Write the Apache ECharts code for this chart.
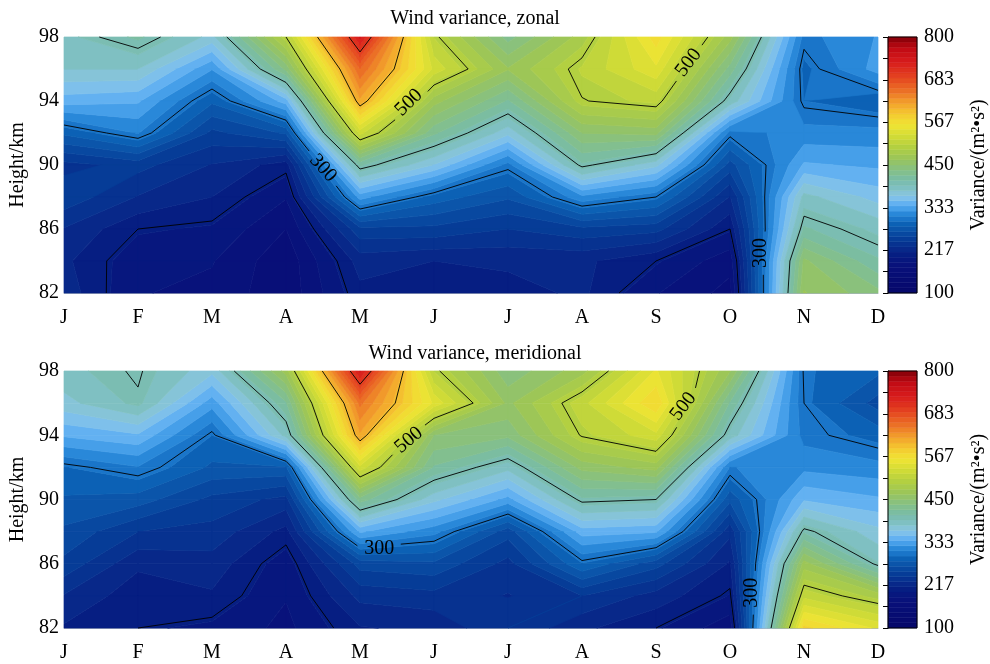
<!DOCTYPE html>
<html>
<head>
<meta charset="utf-8">
<script src="https://cdn.jsdelivr.net/npm/echarts@6/dist/echarts.min.js"></script>
<style>
  html, body { margin: 0; padding: 0; background: #fff; }
  #chart { width: 990px; height: 664px; }
</style>
</head>
<body>
<div id="chart"></div>
<script>
const months = ['J', 'F', 'M', 'A', 'M', 'J', 'J', 'A', 'S', 'O', 'N', 'D'];
const heights = [98, 96, 94, 92, 90, 88, 86, 84, 82];

// variance (m2/s2), one row per height, top row = 98 km, columns J..D
const zonal = [
  [390, 411, 375, 500, 735, 505, 430, 485, 570, 470, 305, 325],
  [380, 380, 325, 440, 660, 530, 465, 508, 545, 430, 292, 330],
  [345, 340, 285, 345, 614, 470, 420, 499, 510, 390, 296, 285],
  [285, 311, 250, 270, 525, 425, 370, 450, 455, 305, 315, 315],
  [235, 245, 225, 205, 410, 365, 305, 405, 370, 262, 340, 335],
  [250, 225, 212, 185, 330, 290, 270, 320, 300, 225, 385, 360],
  [225, 200, 196, 170, 250, 250, 240, 250, 245, 200, 410, 390],
  [215, 189, 185, 160, 218, 212, 215, 215, 200, 175, 453, 410],
  [220, 185, 180, 160, 208, 205, 206, 215, 185, 165, 465, 440]
];
const meridional = [
  [390, 402, 370, 470, 735, 505, 440, 472, 550, 465, 298, 285],
  [375, 398, 330, 420, 650, 545, 460, 515, 575, 420, 300, 262],
  [340, 350, 296, 385, 615, 450, 440, 502, 530, 389, 305, 290],
  [295, 309, 279, 280, 530, 420, 385, 455, 470, 309, 320, 315],
  [280, 275, 250, 235, 430, 370, 333, 405, 400, 272, 350, 340],
  [265, 240, 235, 207, 340, 315, 260, 345, 340, 230, 405, 370],
  [250, 215, 220, 190, 260, 265, 235, 295, 260, 210, 470, 395],
  [225, 203, 210, 185, 230, 235, 225, 240, 220, 197, 515, 486],
  [210, 200, 195, 180, 211, 215, 240, 215, 200, 175, 580, 545]
];

const colorTicks = [100, 217, 333, 450, 567, 683, 800];
const lineLevels = [200, 300, 400, 500, 600, 700];

// contour labels: month index, height, rotation in degrees
const zonalLabels = [
  {level: 300, x: 3.50, h: 89.8, angle: -48},
  {level: 500, x: 4.66, h: 93.9, angle: 44},
  {level: 500, x: 8.44, h: 96.4, angle: 52},
  {level: 300, x: 9.41, h: 84.5, angle: 90}
];
const meridionalLabels = [
  {level: 300, x: 4.26, h: 86.95, angle: 0},
  {level: 500, x: 4.66, h: 93.7, angle: 40},
  {level: 500, x: 8.37, h: 95.8, angle: 52},
  {level: 300, x: 9.30, h: 84.2, angle: 90}
];

const colorStops = [
  [100, '#06086a'], [170, '#08107a'], [200, '#061a80'], [225, '#082c8c'],
  [250, '#063e98'], [270, '#0a50a6'], [290, '#0c62b6'], [305, '#1c78cc'],
  [320, '#2c8cdc'], [335, '#50a6ee'], [350, '#6cb6f2'], [365, '#8ac6e6'],
  [385, '#80c0c4'], [410, '#78bca8'], [440, '#88c080'], [470, '#9cc658'],
  [500, '#b4d040'], [530, '#d2dc36'], [560, '#f0e434'], [590, '#f4c830'],
  [620, '#f2a02c'], [650, '#ec7426'], [690, '#e44420'], [730, '#d81c1c'],
  [770, '#c00a14'], [800, '#820008']
];

const serif = '"Liberation Serif", "DejaVu Serif", serif';
const bandStep = 14;
const bandEdges = [];
for (let v = 100; v <= 800; v += bandStep) bandEdges.push(v);

function hexRgb(h) {
  return [parseInt(h.slice(1, 3), 16), parseInt(h.slice(3, 5), 16), parseInt(h.slice(5, 7), 16)];
}
function colorAt(v) {
  if (v <= colorStops[0][0]) return colorStops[0][1];
  for (let i = 1; i < colorStops.length; i++) {
    if (v <= colorStops[i][0]) {
      const [v0, c0] = colorStops[i - 1], [v1, c1] = colorStops[i];
      const t = (v - v0) / (v1 - v0);
      const a = hexRgb(c0), b = hexRgb(c1);
      return 'rgb(' + a.map((x, k) => Math.round(x + t * (b[k] - x))).join(',') + ')';
    }
  }
  return colorStops[colorStops.length - 1][1];
}

function clipPoly(poly, level, above) {
  const out = [];
  for (let i = 0; i < poly.length; i++) {
    const a = poly[i], b = poly[(i + 1) % poly.length];
    const ina = above ? a[2] >= level : a[2] < level;
    const inb = above ? b[2] >= level : b[2] < level;
    if (ina) out.push(a);
    if (ina !== inb) {
      const t = (level - a[2]) / (b[2] - a[2]);
      out.push([a[0] + t * (b[0] - a[0]), a[1] + t * (b[1] - a[1]), level]);
    }
  }
  return out;
}

function cellCorners(grid, api) {
  const c = api.value(0), r = heights.indexOf(api.value(1));
  return [[c, r], [c + 1, r], [c + 1, r + 1], [c, r + 1]].map(([ci, ri]) => {
    const p = api.coord([ci, heights[ri]]);
    return [p[0], p[1], grid[ri][ci]];
  });
}

function cells() {
  const items = [];
  for (let r = 0; r < heights.length - 1; r++)
    for (let c = 0; c < months.length - 1; c++)
      items.push([c, heights[r]]);
  return items;
}

function fillItem(grid) {
  return function (params, api) {
    const corners = cellCorners(grid, api);
    const vals = corners.map(p => p[2]);
    const vmin = Math.min(...vals), vmax = Math.max(...vals);
    const children = [];
    for (let k = 0; k < bandEdges.length - 1; k++) {
      const lo = k === 0 ? -Infinity : bandEdges[k];
      const hi = k === bandEdges.length - 2 ? Infinity : bandEdges[k + 1];
      if (hi <= vmin || lo > vmax) continue;
      let poly = corners;
      if (lo > vmin) poly = clipPoly(poly, lo, true);
      if (hi <= vmax) poly = clipPoly(poly, hi, false);
      if (poly.length < 3) continue;
      const col = colorAt((bandEdges[k] + bandEdges[k + 1]) / 2);
      children.push({
        type: 'polygon',
        shape: {points: poly.map(p => [p[0], p[1]])},
        style: {fill: col, stroke: col, lineWidth: 0.7}
      });
    }
    return {type: 'group', children: children};
  };
}

function cutSegment(p, q, holes) {
  let pieces = [[0, 1]];
  const dx = q[0] - p[0], dy = q[1] - p[1];
  holes.forEach(hc => {
    const fx = p[0] - hc[0], fy = p[1] - hc[1];
    const A = dx * dx + dy * dy, B = 2 * (fx * dx + fy * dy), C = fx * fx + fy * fy - hc[2] * hc[2];
    const disc = B * B - 4 * A * C;
    if (A === 0 || disc <= 0) return;
    const s = Math.sqrt(disc);
    const t1 = (-B - s) / (2 * A), t2 = (-B + s) / (2 * A);
    const next = [];
    pieces.forEach(([a, b]) => {
      if (t2 <= a || t1 >= b) { next.push([a, b]); return; }
      if (t1 > a) next.push([a, t1]);
      if (t2 < b) next.push([t2, b]);
    });
    pieces = next;
  });
  return pieces.map(([a, b]) => [[p[0] + a * dx, p[1] + a * dy], [p[0] + b * dx, p[1] + b * dy]]);
}

function lineItem(grid, labels) {
  return function (params, api) {
    const corners = cellCorners(grid, api);
    const center = corners.reduce((s, p) => s + p[2], 0) / 4;
    const holes = labels.map(l => {
      const p = api.coord([l.x, l.h]);
      return {level: l.level, c: [p[0], p[1], 22]};
    });
    const children = [];
    lineLevels.forEach(L => {
      const cr = [];
      for (let e = 0; e < 4; e++) {
        const a = corners[e], b = corners[(e + 1) % 4];
        const va = a[2] === L ? L + 1e-6 : a[2], vb = b[2] === L ? L + 1e-6 : b[2];
        if ((va - L) * (vb - L) < 0) {
          const t = (L - va) / (vb - va);
          cr[e] = [a[0] + t * (b[0] - a[0]), a[1] + t * (b[1] - a[1])];
        }
      }
      const idx = [0, 1, 2, 3].filter(e => cr[e]);
      let segs = [];
      if (idx.length === 2) segs = [[cr[idx[0]], cr[idx[1]]]];
      else if (idx.length === 4) {
        if ((corners[0][2] >= L) === (center >= L)) segs = [[cr[0], cr[1]], [cr[2], cr[3]]];
        else segs = [[cr[3], cr[0]], [cr[1], cr[2]]];
      }
      const myHoles = holes.filter(hh => hh.level === L).map(hh => hh.c);
      segs.forEach(([p, q]) => {
        cutSegment(p, q, myHoles).forEach(([a, b]) => {
          children.push({
            type: 'line',
            shape: {x1: a[0], y1: a[1], x2: b[0], y2: b[1]},
            style: {stroke: '#000', lineWidth: 0.9}
          });
        });
      });
    });
    return {type: 'group', children: children};
  };
}

function labelItem(labels) {
  return function (params, api) {
    const l = labels[params.dataIndex];
    const p = api.coord([l.x, l.h]);
    return {
      type: 'text', x: p[0], y: p[1], rotation: l.angle * Math.PI / 180,
      style: {text: String(l.level), fill: '#000', font: '20px ' + serif, align: 'center', verticalAlign: 'middle'}
    };
  };
}

function colorbarItem(params, api) {
  const k = params.dataIndex;
  const lo = bandEdges[k], hi = bandEdges[k + 1];
  const p0 = api.coord([0, hi]), p1 = api.coord([1, lo]);
  const col = colorAt((lo + hi) / 2);
  const children = [{
    type: 'rect',
    shape: {x: p0[0], y: p0[1], width: p1[0] - p0[0], height: p1[1] - p0[1]},
    style: {fill: col, stroke: col, lineWidth: 0.5}
  }];
  if (k === bandEdges.length - 2) {
    const a = api.coord([0, 800]), b = api.coord([1, 100]);
    children.push({
      type: 'rect', z2: 10,
      shape: {x: a[0], y: a[1], width: b[0] - a[0], height: b[1] - a[1]},
      style: {fill: null, stroke: '#000', lineWidth: 1}
    });
  }
  return {type: 'group', children: children};
}

const minorTicks = [];
for (let i = 0; i < colorTicks.length - 1; i++) minorTicks.push(colorTicks[i], (colorTicks[i] + colorTicks[i + 1]) / 2);
minorTicks.push(800);

function mainX(gi) {
  return {
    gridIndex: gi, type: 'value', min: 0, max: 11, interval: 1,
    axisLine: {show: true, lineStyle: {color: '#aab2c0', width: 1}},
    axisTick: {show: false}, splitLine: {show: false},
    axisLabel: {formatter: v => months[v], color: '#000', fontFamily: serif, fontSize: 20, margin: 15}
  };
}
function mainY(gi) {
  return {
    gridIndex: gi, type: 'value', min: 82, max: 98, interval: 4,
    name: 'Height/km', nameLocation: 'middle', nameGap: 36,
    nameTextStyle: {color: '#000', fontFamily: serif, fontSize: 20},
    axisLine: {show: false}, axisTick: {show: false}, splitLine: {show: false},
    axisLabel: {color: '#000', fontFamily: serif, fontSize: 20, margin: 5}
  };
}
function barX(gi) {
  return {gridIndex: gi, type: 'value', min: 0, max: 1, show: false};
}
function barY(gi) {
  return {
    gridIndex: gi, type: 'value', min: 100, max: 800, position: 'right',
    name: 'Variance/(m²•s²)', nameLocation: 'middle', nameGap: 52,
    nameTextStyle: {color: '#000', fontFamily: serif, fontSize: 20},
    axisLine: {show: true, lineStyle: {color: '#000', width: 1}},
    axisTick: {show: true, inside: true, length: 5, customValues: minorTicks, lineStyle: {color: '#000', width: 1}},
    splitLine: {show: false},
    axisLabel: {customValues: colorTicks, formatter: v => String(Math.round(v)), color: '#000', fontFamily: serif, fontSize: 20, margin: 7}
  };
}

const chart = echarts.init(document.getElementById('chart'), null, {renderer: 'canvas'});
chart.setOption({
  animation: false,
  backgroundColor: '#fff',
  title: [
    {text: 'Wind variance, zonal', left: 470, top: 4, textAlign: 'center',
     textStyle: {color: '#000', fontFamily: serif, fontSize: 20, fontWeight: 'normal'}},
    {text: 'Wind variance, meridional', left: 470, top: 339, textAlign: 'center',
     textStyle: {color: '#000', fontFamily: serif, fontSize: 20, fontWeight: 'normal'}}
  ],
  grid: [
    {left: 62, top: 37, width: 816, height: 256},
    {left: 62, top: 371, width: 816, height: 257},
    {left: 888, top: 37, width: 32, height: 256},
    {left: 888, top: 371, width: 32, height: 257}
  ],
  xAxis: [mainX(0), mainX(1), barX(2), barX(3)],
  yAxis: [mainY(0), mainY(1), barY(2), barY(3)],
  series: [
    {type: 'custom', xAxisIndex: 0, yAxisIndex: 0, data: cells(), renderItem: fillItem(zonal), silent: true, z: 1},
    {type: 'custom', xAxisIndex: 1, yAxisIndex: 1, data: cells(), renderItem: fillItem(meridional), silent: true, z: 1},
    {type: 'custom', xAxisIndex: 0, yAxisIndex: 0, data: cells(), renderItem: lineItem(zonal, zonalLabels), silent: true, z: 2},
    {type: 'custom', xAxisIndex: 1, yAxisIndex: 1, data: cells(), renderItem: lineItem(meridional, meridionalLabels), silent: true, z: 2},
    {type: 'custom', xAxisIndex: 0, yAxisIndex: 0, data: zonalLabels.map(l => [l.x, l.h]), renderItem: labelItem(zonalLabels), silent: true, z: 3},
    {type: 'custom', xAxisIndex: 1, yAxisIndex: 1, data: meridionalLabels.map(l => [l.x, l.h]), renderItem: labelItem(meridionalLabels), silent: true, z: 3},
    {type: 'custom', xAxisIndex: 2, yAxisIndex: 2, data: bandEdges.slice(0, -1).map(v => [0.5, v]), renderItem: colorbarItem, silent: true},
    {type: 'custom', xAxisIndex: 3, yAxisIndex: 3, data: bandEdges.slice(0, -1).map(v => [0.5, v]), renderItem: colorbarItem, silent: true}
  ]
});
</script>
</body>
</html>
